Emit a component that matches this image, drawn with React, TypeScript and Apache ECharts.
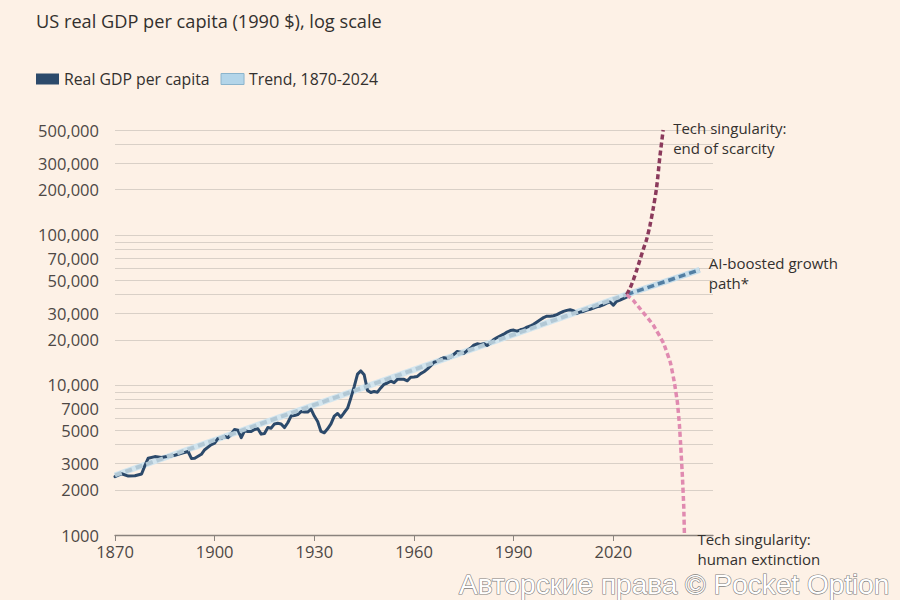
import React, { useEffect, useRef } from "react";
import * as echarts from "echarts";

const gdpYears = [
  1870, 1872, 1874, 1876, 1878, 1879, 1880, 1882, 1884, 1886, 1888, 1890, 1892, 1893, 1894, 1896, 1897, 1899,
  1900, 1901, 1902, 1903, 1904, 1905, 1906, 1907, 1908, 1909, 1910, 1911, 1912, 1913, 1914, 1915, 1916, 1917,
  1918, 1919, 1920, 1921, 1922, 1923, 1924, 1925, 1926, 1927, 1928, 1929, 1930, 1931, 1932, 1933, 1934, 1935,
  1936, 1937, 1938, 1939, 1940, 1941, 1942, 1943, 1944, 1945, 1946, 1947, 1948, 1949, 1950, 1951, 1952, 1953,
  1954, 1955, 1956, 1957, 1958, 1959, 1960, 1961, 1962, 1963, 1964, 1965, 1966, 1967, 1968, 1969, 1970, 1971,
  1972, 1973, 1974, 1975, 1976, 1977, 1978, 1979, 1980, 1981, 1982, 1983, 1984, 1985, 1986, 1987, 1988, 1989,
  1990, 1991, 1992, 1993, 1994, 1995, 1996, 1997, 1998, 1999, 2000, 2001, 2002, 2003, 2004, 2005, 2006, 2007,
  2008, 2009, 2010, 2011, 2012, 2013, 2014, 2015, 2016, 2017, 2018, 2019, 2020, 2021, 2022, 2023, 2024,
];
const gdpValues = [
  2450, 2560, 2470, 2480, 2550, 2900, 3250, 3330, 3280, 3350, 3400, 3500, 3600, 3240, 3250, 3450, 3700, 4000,
  4100, 4400, 4400, 4550, 4450, 4700, 5050, 5000, 4450, 4950, 4900, 4900, 5050, 5100, 4700, 4750, 5200, 5150,
  5500, 5550, 5500, 5200, 5600, 6200, 6250, 6350, 6650, 6600, 6600, 6900, 6200, 5700, 4900, 4800, 5100, 5500,
  6200, 6450, 6100, 6550, 7000, 8200, 9750, 11800, 12400, 11700, 9200, 8900, 9050, 8950, 9550, 10100, 10300, 10600,
  10350, 10900, 10900, 10900, 10650, 11250, 11300, 11400, 11900, 12250, 12750, 13400, 14150, 14350, 14850, 15200, 15050, 15300,
  16000, 16700, 16500, 16250, 16950, 17550, 18400, 18800, 18600, 18850, 18300, 19000, 20100, 20700, 21250, 21800, 22500, 23050,
  23200, 22850, 23300, 23600, 24300, 24700, 25400, 26300, 27200, 28100, 28700, 28700, 28900, 29400, 30200, 30900, 31400, 31700,
  31300, 30000, 30600, 30900, 31500, 31900, 32500, 33200, 33500, 34200, 35100, 35700, 34000, 36100, 36800, 37600, 38500,
];

const trendYears = [1870, 2024];
const trendValues = [2500, 40000];

const aiYears = [2024, 2046];
const aiValues = [40000, 58500];

const scarcityYears = [2024, 2025, 2026, 2027, 2028, 2029, 2030, 2031, 2032, 2033, 2034, 2035];
const scarcityValues = [40000, 44000, 50000, 58000, 68000, 80000, 93000, 115000, 150000, 205000, 330000, 500000];

const extinctionYears = [2024, 2026, 2028.1, 2032, 2035.1, 2037.2, 2038.4, 2039.3, 2039.9, 2040.3, 2040.8, 2041.2, 2041.4];
const extinctionValues = [40000, 36600, 32100, 25100, 19000, 14000, 10300, 7600, 5400, 3860, 2430, 1540, 1000];

const xTickYears = [1870, 1900, 1930, 1960, 1990, 2020];
const yGridValues = [
  1000, 2000, 3000, 4000, 5000, 6000, 7000, 8000, 9000, 10000, 20000, 30000, 40000, 50000, 60000, 70000, 80000,
  90000, 100000, 200000, 300000, 400000, 500000,
];
const yLabelValues = [1000, 2000, 3000, 5000, 7000, 10000, 20000, 30000, 50000, 70000, 100000, 200000, 300000, 500000];

const titleText = "US real GDP per capita (1990 $), log scale";
const gdpName = "Real GDP per capita";
const trendName = "Trend, 1870-2024";
const scarcityLabel = "Tech singularity:\nend of scarcity";
const aiLabel = "AI-boosted growth\npath*";
const extinctionLabel = "Tech singularity:\nhuman extinction";
const watermark = "Авторские права © Pocket Option";

const zip = (xs: number[], ys: number[]) => xs.map((x, i) => [x, ys[i]]);

const FONT = '"Open Sans", Lato, "Noto Sans", sans-serif';
const BG = "#fdf1e6";
const TEXT = "#33302e";

export default function App() {
  const ref = useRef<HTMLDivElement>(null);
  useEffect(() => {
    const chart = echarts.init(ref.current!, null, { renderer: "svg" });
    const annot = (text: string, offset: number[]) => ({
      show: true,
      formatter: text,
      fontFamily: FONT,
      fontSize: 15,
      lineHeight: 20,
      color: TEXT,
      distance: 5,
      offset,
      align: "left",
    });
    const option: any = {
      animation: false,
      backgroundColor: BG,
      textStyle: { fontFamily: FONT },
      title: {
        text: titleText,
        left: 36,
        top: 12,
        padding: 0,
        textStyle: { fontFamily: FONT, fontSize: 18.2, fontWeight: "normal", color: TEXT },
      },
      legend: {
        left: 36,
        top: 71,
        padding: 0,
        itemWidth: 23,
        itemHeight: 11,
        itemGap: 11,
        textStyle: { fontFamily: FONT, fontSize: 15.8, color: TEXT },
        data: [
          { name: gdpName, icon: "rect", itemStyle: { color: "#2c4a6b", borderWidth: 0 } },
          { name: trendName, icon: "rect", itemStyle: { color: "#b3d5e9", borderColor: "#8bb4cc", borderWidth: 1 } },
        ],
        selectedMode: false,
      },
      grid: { left: 115, right: 187, top: 130, bottom: 65, containLabel: false },
      xAxis: {
        type: "value",
        min: 1870,
        max: 2050,
        axisLine: { show: true, lineStyle: { color: "#8a837d", width: 1.3 } },
        axisTick: { show: true, customValues: xTickYears, length: 6, lineStyle: { color: "#8a837d" } },
        axisLabel: {
          customValues: xTickYears,
          fontFamily: FONT,
          fontSize: 16.5,
          color: "#4d4845",
          margin: 8,
          formatter: (v: number) => String(v),
        },
        splitLine: { show: false },
      },
      yAxis: {
        type: "log",
        logBase: 10,
        min: 1000,
        max: 500000,
        axisLine: { show: false },
        axisTick: { show: false, customValues: yGridValues },
        axisLabel: {
          customValues: yLabelValues,
          fontFamily: FONT,
          fontSize: 16.5,
          color: "#4d4845",
          margin: 16,
          formatter: (v: number) => (v >= 10000 ? Math.round(v).toLocaleString("en-US") : String(Math.round(v))),
        },
        splitLine: { show: true, lineStyle: { color: "#d9d0c7", width: 1 } },
      },
      series: [
        {
          name: trendName + " band",
          type: "line",
          data: zip(trendYears, trendValues),
          symbol: "none",
          z: 1,
          lineStyle: { color: "#d3e5ee", width: 6 },
          silent: true,
        },
        {
          name: gdpName,
          type: "line",
          data: zip(gdpYears, gdpValues),
          symbol: "none",
          z: 2,
          itemStyle: { color: "#2c4a6b" },
          lineStyle: { color: "#2c4a6b", width: 3, join: "round", cap: "round" },
          silent: true,
        },
        {
          name: trendName,
          type: "line",
          data: zip(trendYears, trendValues),
          symbol: "none",
          z: 3,
          itemStyle: { color: "#b3d5e9" },
          lineStyle: { color: "#b2c8d5", width: 4, type: [7, 4] },
          silent: true,
        },
        {
          name: "AI band",
          type: "line",
          data: zip(aiYears, aiValues),
          symbol: "none",
          z: 3,
          lineStyle: { color: "#c8deea", width: 6 },
          silent: true,
        },
        {
          name: "AI-boosted",
          type: "line",
          data: zip(aiYears, aiValues),
          symbol: "none",
          z: 4,
          lineStyle: { color: "#537fa3", width: 3.5, type: [7, 4] },
          silent: true,
          endLabel: annot(aiLabel, [4, 3]),
        },
        {
          name: "Scarcity",
          type: "line",
          data: zip(scarcityYears, scarcityValues),
          symbol: "none",
          smooth: 0.3,
          z: 5,
          clip: false,
          lineStyle: { color: "#8b3a5c", width: 3.5, type: [5, 3] },
          silent: true,
          endLabel: annot(scarcityLabel, [5, 8]),
        },
        {
          name: "Extinction",
          type: "line",
          data: zip(extinctionYears, extinctionValues),
          symbol: "none",
          smooth: 0.1,
          z: 5,
          clip: false,
          lineStyle: { color: "#e08ab0", width: 3.5, type: [5, 3] },
          silent: true,
          endLabel: annot(extinctionLabel, [8, 14]),
        },
      ],
      graphic: [
        {
          type: "text",
          right: 10,
          top: 570,
          silent: true,
          style: {
            text: watermark,
            fill: "#ffffff",
            stroke: "#7d7d7d",
            lineWidth: 1.2,
            font: '28px "Liberation Sans", Arial, sans-serif',
          },
        },
      ],
    };
    chart.setOption(option);
    return () => chart.dispose();
  }, []);
  return (
    <div
      ref={ref}
      style={{ position: "fixed", left: 0, top: 0, width: 900, height: 600, background: BG }}
    />
  );
}
